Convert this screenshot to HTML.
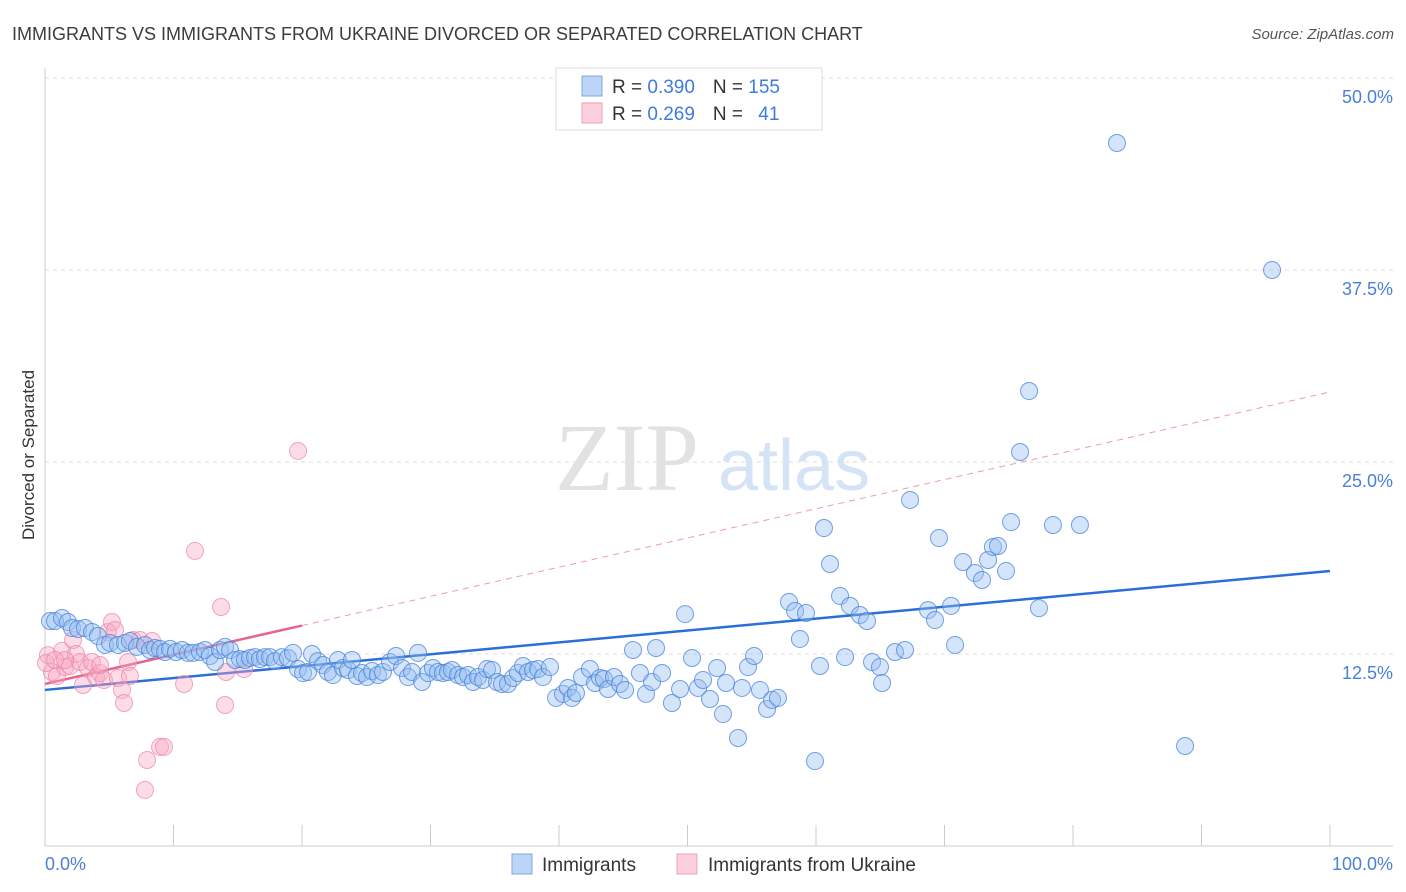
<!DOCTYPE html>
<html><head><meta charset="utf-8"><style>
body{margin:0;background:#fff;}
svg{display:block;font-family:"Liberation Sans",sans-serif;}
</style></head><body>
<svg id="chart" width="1406" height="892" viewBox="0 0 1406 892">
<text x="12" y="40" font-size="18" fill="#3c3c3c">IMMIGRANTS VS IMMIGRANTS FROM UKRAINE DIVORCED OR SEPARATED CORRELATION CHART</text>
<text x="1394" y="39" font-size="15" fill="#555" font-style="italic" text-anchor="end">Source: ZipAtlas.com</text>
<text transform="translate(34,455) rotate(-90)" font-size="17" fill="#333" text-anchor="middle">Divorced or Separated</text>
<g>
<text x="555" y="490" font-size="96" font-family="Liberation Serif,serif" fill="#e2e2e2">ZIP</text>
<text x="718" y="490" font-size="72" fill="#d4e3f5">atlas</text>
</g>
<g id="grid"></g>
<g id="axes"></g>
<g id="trend"></g>
<g id="pts"></g>
<g>
<rect x="556" y="68" width="266" height="62" fill="#fff" stroke="#ddd"/>
<rect x="582" y="76" width="20" height="20" fill="#bcd5f5" stroke="#7ea9e6"/>
<rect x="582" y="103" width="20" height="20" fill="#fbcfdc" stroke="#eea0b8"/>
<text x="612" y="93" font-size="19" fill="#333">R = <tspan fill="#3d7be0">0.390</tspan><tspan dx="18">N = </tspan><tspan fill="#3d7be0">155</tspan></text>
<text x="612" y="120" font-size="19" fill="#333">R = <tspan fill="#3d7be0">0.269</tspan><tspan dx="18">N = </tspan><tspan fill="#3d7be0" dx="10">41</tspan></text>
</g>
<g>
<rect x="512" y="854" width="20" height="20" fill="#bcd5f5" stroke="#7ea9e6"/>
<text x="542" y="871" font-size="19" fill="#333">Immigrants</text>
<rect x="677" y="854" width="20" height="20" fill="#fbcfdc" stroke="#eea0b8"/>
<text x="708" y="871" font-size="19" fill="#333">Immigrants from Ukraine</text>
</g>
</svg>
<script>
const yTicks=[12.5,25,37.5,50];
const yTickLabels=["12.5%","25.0%","37.5%","50.0%"];
const xTickLabels=["0.0%","100.0%"];
const blueX=[0.39,0.78,1.32,1.79,2.10,2.57,3.11,3.66,4.12,4.67,5.06,5.68,6.23,6.61,7.16,7.78,8.17,8.56,8.95,9.34,9.73,10.19,10.66,11.13,11.52,12.06,12.45,12.84,13.23,13.62,14.01,14.40,14.79,15.18,15.56,15.95,16.34,16.73,17.12,17.51,17.90,18.44,18.91,19.30,19.69,20.08,20.47,20.78,21.25,21.63,22.02,22.41,22.80,23.19,23.58,23.89,24.28,24.67,25.06,25.45,25.91,26.30,26.85,27.32,27.78,28.25,28.56,29.03,29.34,29.81,30.19,30.58,30.97,31.36,31.67,32.14,32.53,32.92,33.31,33.70,34.09,34.40,34.79,35.18,35.56,36.03,36.42,36.81,37.20,37.59,37.98,38.37,38.75,39.30,39.77,40.31,40.70,41.01,41.32,41.79,42.41,42.80,43.19,43.50,43.81,44.28,44.75,45.14,45.76,46.30,46.77,47.24,47.55,48.02,48.79,49.42,49.81,50.35,50.82,51.21,51.75,52.30,52.76,53.00,53.93,54.24,54.71,55.18,55.64,56.19,56.58,57.04,57.90,58.37,58.75,59.22,59.92,60.31,60.62,61.09,61.87,62.26,62.65,63.42,63.97,64.36,64.98,65.14,66.15,66.93,67.32,68.72,69.26,69.57,70.51,70.82,71.44,72.37,72.92,73.39,73.77,74.16,74.79,75.18,75.88,76.58,77.35,78.44,80.54,83.42,88.72,95.49];
const blueY=[14.65,14.65,14.84,14.58,14.19,14.13,14.19,13.93,13.67,13.09,13.22,13.09,13.22,13.35,12.96,13.09,12.76,12.89,12.83,12.63,12.83,12.63,12.76,12.57,12.57,12.63,12.76,12.37,11.98,12.76,12.96,12.76,12.11,12.17,12.11,12.24,12.30,12.17,12.30,12.30,12.04,12.30,12.24,12.57,11.52,11.26,11.33,12.50,12.04,11.78,11.33,11.13,12.11,11.59,11.46,12.11,11.07,11.26,11.00,11.39,11.13,11.33,11.98,12.37,11.59,11.00,11.33,12.57,10.68,11.26,11.59,11.33,11.26,11.33,11.46,11.13,11.00,11.13,10.68,11.00,10.81,11.52,11.46,10.68,10.55,10.55,10.94,11.26,11.72,11.33,11.46,11.52,11.00,11.65,9.64,9.90,10.29,9.64,9.96,11.00,11.52,10.61,10.94,10.87,10.22,11.00,10.55,10.16,12.76,11.26,9.90,10.68,12.89,11.26,9.31,10.22,15.10,12.24,10.29,10.81,9.57,11.59,8.59,10.61,7.03,10.29,11.65,12.37,10.16,8.92,9.51,9.64,15.89,15.30,13.48,15.17,5.53,11.72,20.70,18.36,16.28,12.30,15.63,15.04,14.65,11.98,11.65,10.61,12.63,12.76,22.53,15.36,14.71,20.05,15.63,13.09,18.49,17.77,17.32,18.62,19.47,19.53,17.90,21.09,25.65,29.62,15.49,20.90,20.90,45.77,6.51,37.50];
const pinkX=[0.23,0.54,0.93,1.32,1.56,1.95,2.18,2.41,2.72,2.96,3.35,3.66,3.97,4.28,4.59,4.90,5.21,5.45,5.68,5.99,6.15,6.46,6.61,6.85,7.39,7.94,8.33,8.95,9.26,7.78,10.82,11.67,13.70,14.01,14.09,15.49,19.69,0.08,0.78,1.56,4.28];
const pinkY=[12.43,11.33,11.07,12.70,11.65,11.72,13.41,12.50,11.98,10.48,11.59,11.98,11.00,11.26,10.81,13.93,14.58,14.06,10.94,10.16,9.31,11.98,11.07,13.41,13.41,5.60,13.35,6.45,6.45,3.65,10.55,19.21,15.56,9.18,11.33,11.52,25.72,11.91,12.11,12.11,11.78];
const blueTrend=[10.16,17.9];
const pinkTrend=[10.55,29.56];
const pinkSolidEnd=20;
const NS="http://www.w3.org/2000/svg";
const X0=45,X1=1330,Y0=846,Y50=78;
function sx(v){return X0+(X1-X0)*v/100;}
function sy(v){return Y0-(Y0-Y50)*v/50;}
function mk(tag,attrs,parent){const e=document.createElementNS(NS,tag);for(const k in attrs)e.setAttribute(k,attrs[k]);parent.appendChild(e);return e;}
const grid=document.getElementById('grid'),axes=document.getElementById('axes'),trend=document.getElementById('trend'),pts=document.getElementById('pts');
yTicks.forEach((t,i)=>{
 const l=mk('line',{x1:X0,x2:1393,y1:sy(t),y2:sy(t),stroke:'#ddd','stroke-dasharray':'4,4'},grid);
 
 
 const tx=mk('text',{x:1393,y:sy(t)+25,'text-anchor':'end','font-size':18,fill:'#4a80d6'},axes);
 tx.textContent=yTickLabels[i];
 
 
});
mk('line',{x1:X0,x2:X0,y1:68,y2:Y0,stroke:'#ccc'},axes);
mk('line',{x1:X0,x2:1393,y1:Y0,y2:Y0,stroke:'#ccc'},axes);
for(let i=0;i<=10;i++){mk('line',{x1:sx(i*10),x2:sx(i*10),y1:825,y2:Y0,stroke:'#ccc'},axes);}
const xl0=mk('text',{x:X0,y:870,'font-size':18,fill:'#4a80d6'},axes);xl0.textContent=xTickLabels[0];


const xl1=mk('text',{x:1393,y:870,'font-size':18,fill:'#4a80d6','text-anchor':'end'},axes);xl1.textContent=xTickLabels[1];


pinkX.forEach((x,i)=>{
 const c=mk('circle',{cx:sx(x),cy:sy(pinkY[i]),r:8.5,fill:'rgba(248,170,195,0.4)',stroke:'rgba(236,130,165,0.7)','stroke-width':1},pts);
 
 
});
blueX.forEach((x,i)=>{
 const c=mk('circle',{cx:sx(x),cy:sy(blueY[i]),r:8.5,fill:'rgba(150,190,240,0.4)',stroke:'rgba(70,130,220,0.75)','stroke-width':1},pts);
 
 
});
const bt=mk('line',{x1:sx(0),y1:sy(blueTrend[0]),x2:sx(100),y2:sy(blueTrend[1]),stroke:'#2a6fd8','stroke-width':2.5},trend);


const pAt=x=>pinkTrend[0]+(pinkTrend[1]-pinkTrend[0])*x/100;
const pt=mk('line',{x1:sx(0),y1:sy(pAt(0)),x2:sx(pinkSolidEnd),y2:sy(pAt(pinkSolidEnd)),stroke:'#e8628d','stroke-width':2.5},trend);


const pd=mk('line',{x1:sx(pinkSolidEnd),y1:sy(pAt(pinkSolidEnd)),x2:sx(100),y2:sy(pAt(100)),stroke:'#eb9ab4','stroke-width':1,'stroke-dasharray':'6,5'},trend);


</script>
</body></html>
